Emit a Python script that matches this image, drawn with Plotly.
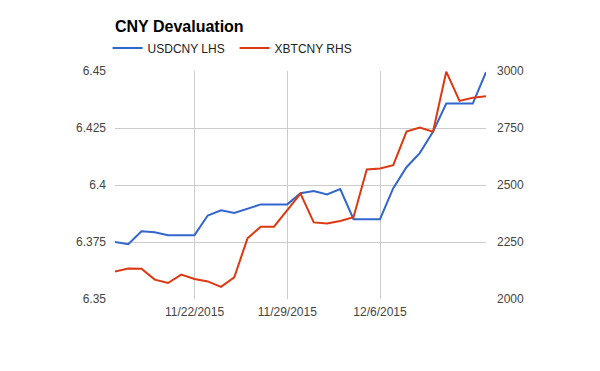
import plotly.graph_objects as go

dates = ["2015-11-16", "2015-11-17", "2015-11-18", "2015-11-19", "2015-11-20", "2015-11-21",
         "2015-11-22", "2015-11-23", "2015-11-24", "2015-11-25", "2015-11-26", "2015-11-27",
         "2015-11-28", "2015-11-29", "2015-11-30", "2015-12-01", "2015-12-02", "2015-12-03",
         "2015-12-04", "2015-12-05", "2015-12-06", "2015-12-07", "2015-12-08", "2015-12-09",
         "2015-12-10", "2015-12-11", "2015-12-12", "2015-12-13", "2015-12-14"]

usdcny = [6.375, 6.374, 6.3797, 6.3793, 6.378, 6.378, 6.378, 6.3866, 6.3889, 6.3877,
          6.3896, 6.3915, 6.3915, 6.3915, 6.3964, 6.3974, 6.3959, 6.3982, 6.385, 6.385,
          6.385, 6.3986, 6.4078, 6.414, 6.4233, 6.4357, 6.4357, 6.4357, 6.4495]

xbtcny = [2121, 2134, 2133, 2085, 2070, 2107, 2088, 2077, 2053, 2095,
          2266, 2317, 2317, 2388, 2462, 2336, 2331, 2342, 2359, 2568,
          2572, 2587, 2734, 2752, 2734, 2997, 2869, 2883, 2889]

x_tickvals = ["2015-11-22", "2015-11-29", "2015-12-06"]
x_ticktext = ["11/22/2015", "11/29/2015", "12/6/2015"]

fig = go.Figure()
fig.add_trace(go.Scatter(x=dates, y=usdcny, name="USDCNY LHS", mode="lines",
                         line=dict(color="#3366cc", width=2), yaxis="y"))
fig.add_trace(go.Scatter(x=dates, y=xbtcny, name="XBTCNY RHS", mode="lines",
                         line=dict(color="#dc3912", width=2), yaxis="y2"))

tickfont = dict(family="Arial, Liberation Sans, sans-serif", size=12, color="#444444")

fig.update_layout(
    width=600, height=371,
    margin=dict(l=115, r=114, t=71, b=72),
    paper_bgcolor="white", plot_bgcolor="white",
    font=dict(family="Arial, Liberation Sans, sans-serif"),
    title=dict(text="<b>CNY Devaluation</b>", x=115/600, xanchor="left",
               y=1 - 26/371, yanchor="middle",
               font=dict(size=16, color="#000000")),
    legend=dict(orientation="h", x=-0.02, xanchor="left", y=1 + (71-33.5)/228, yanchor="top",
                font=dict(size=12, color="#222222"), bgcolor="rgba(0,0,0,0)",
                itemwidth=30, entrywidth=82, entrywidthmode="pixels"),
    xaxis=dict(range=["2015-11-16", "2015-12-14"], tickmode="array",
               tickvals=x_tickvals, ticktext=x_ticktext, showgrid=True,
               gridcolor="#cccccc", gridwidth=1, zeroline=False, showline=False,
               ticks="", tickfont=tickfont, ticklabelstandoff=4),
    yaxis=dict(range=[6.35, 6.45], dtick=0.025, tick0=6.35, tickformat=".4~g",
               showgrid=True, gridcolor="#cccccc", gridwidth=1, zeroline=False,
               showline=False, ticks="", tickfont=tickfont, ticklabelstandoff=8),
    yaxis2=dict(range=[2000, 3000], dtick=250, tick0=2000, overlaying="y", side="right",
                showgrid=False, zeroline=False, showline=False, ticks="", tickfont=tickfont,
                ticklabelstandoff=10),
    showlegend=True,
)

fig.write_html("out.html", config={"displayModeBar": False},
               post_script="document.body.style.margin='0';")
